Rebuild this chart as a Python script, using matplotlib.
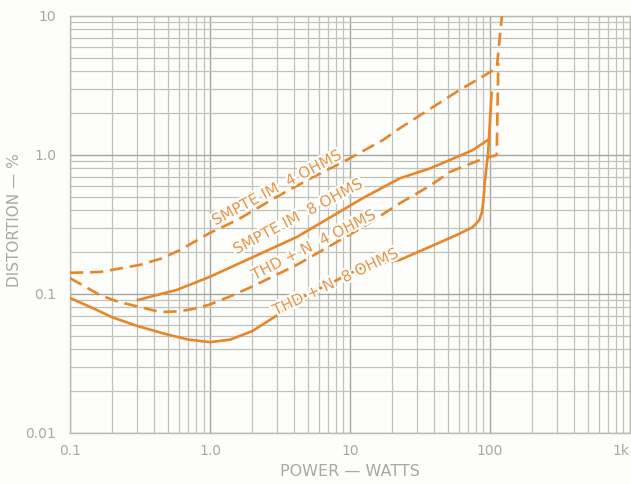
import numpy as np
import matplotlib.pyplot as plt
import matplotlib.patheffects as pe
from matplotlib.ticker import LogLocator, NullFormatter

# Curves (power in watts, distortion in %)
smpte4_w = [0.1, 0.164, 0.316, 0.45, 0.61, 1.0, 1.56, 3.0, 5.4, 9.5, 17.2, 22.8, 61, 112, 122, 122]
smpte4_d = [0.142, 0.144, 0.162, 0.18, 0.207, 0.275, 0.34, 0.50, 0.69, 0.92, 1.28, 1.56, 2.94, 4.2, 10, 14]

smpte8_w = [0.306, 0.58, 1.0, 1.64, 4.18, 12.4, 22.8, 37.3, 51.8, 75, 96.8]
smpte8_d = [0.0906, 0.107, 0.133, 0.167, 0.257, 0.49, 0.68, 0.80, 0.92, 1.08, 1.28]

thd4_w = [0.1, 0.13, 0.164, 0.22, 0.316, 0.44, 0.6, 0.757, 1.0, 1.46, 2.0, 4.18, 12.4,
          22.8, 37.3, 51.8, 85, 112, 115]
thd4_d = [0.130, 0.112, 0.098, 0.088, 0.0806, 0.0742, 0.075, 0.078, 0.084, 0.098, 0.113, 0.162, 0.303,
          0.45, 0.60, 0.755, 0.92, 1.0, 4.6]

thd8_w = [0.1, 0.15, 0.2, 0.3, 0.5, 0.7, 1.0, 1.4, 2.0, 3.0, 4.18, 12.4, 22.8, 44, 60,
          75.7, 84, 88, 90.5, 92, 95, 97, 103]
thd8_d = [0.0936, 0.078, 0.068, 0.059, 0.051, 0.047, 0.045, 0.047, 0.054, 0.070, 0.0906, 0.156, 0.176, 0.235, 0.27,
          0.303, 0.34, 0.39, 0.50, 0.63, 0.85, 1.0, 2.8]

x_ticks = [0.1, 1, 10, 100, 1000]
x_labels = ['0.1', '1.0', '10', '100', '1k']
y_ticks = [0.01, 0.1, 1, 10]
y_labels = ['0.01', '0.1', '1.0', '10']

orange = '#e8862a'
label_orange = '#e9964a'
grey = '#a6ab9f'

fig = plt.figure(figsize=(6.31, 4.84), dpi=100)
fig.patch.set_facecolor('#fdfdfb')
ax = fig.add_axes([0.111, 0.1054, 0.887, 0.8616])
ax.set_facecolor('#fdfdfb')
ax.set_xscale('log')
ax.set_yscale('log')
ax.set_xlim(0.1, 1000)
ax.set_ylim(0.01, 10)

# graph-paper grid
ax.xaxis.set_minor_locator(LogLocator(base=10, subs=np.arange(2, 10)))
ax.yaxis.set_minor_locator(LogLocator(base=10, subs=np.arange(2, 10)))
ax.xaxis.set_minor_formatter(NullFormatter())
ax.yaxis.set_minor_formatter(NullFormatter())
ax.grid(True, which='major', color='#a3a89f', lw=1.0)
ax.grid(True, which='minor', color='#bfc3bb', lw=0.9)
for s in ax.spines.values():
    s.set_color('#b8bcb4')
    s.set_linewidth(1.0)

ax.set_xticks(x_ticks)
ax.set_xticklabels(x_labels)
ax.set_yticks(y_ticks)
ax.set_yticklabels(y_labels)
ax.tick_params(which='both', length=0, colors=grey, labelsize=10)
ax.tick_params(axis='x', pad=8)
ax.tick_params(axis='y', pad=10)
# last x label sits at the figure edge: keep it inside
ax.get_xticklabels()[-1].set_horizontalalignment('right')

ax.set_xlabel('POWER — WATTS', color=grey, fontsize=11.5, labelpad=4)
ax.set_ylabel('DISTORTION — %', color=grey, fontsize=11)
ax.yaxis.set_label_coords(-0.085, 0.51)

dash = (0, (5, 2.6))
ax.plot(smpte4_w, smpte4_d, color=orange, lw=1.9, ls=dash, zorder=3)
ax.plot(smpte8_w, smpte8_d, color=orange, lw=1.9, zorder=3)
ax.plot(thd4_w, thd4_d, color=orange, lw=1.9, ls=dash, zorder=3)
ax.plot(thd8_w, thd8_d, color=orange, lw=1.9, zorder=3)

halo = [pe.withStroke(linewidth=3.5, foreground='#fdfdfb')]
labels = [
    ('SMPTE IM  4 OHMS', 3.0, 0.58, 28),
    ('SMPTE IM  8 OHMS', 4.25, 0.36, 28),
    ('THD + N  4 OHMS', 5.5, 0.225, 27),
    ('THD + N  8 OHMS', 7.9, 0.122, 25.5),
]
for txt, xw, yd, ang in labels:
    ax.text(xw, yd, txt, color=label_orange, fontsize=11, rotation=ang,
            rotation_mode='anchor', ha='center', va='center',
            path_effects=halo, zorder=5)

plt.savefig('out.png', dpi=100, facecolor=fig.get_facecolor())
